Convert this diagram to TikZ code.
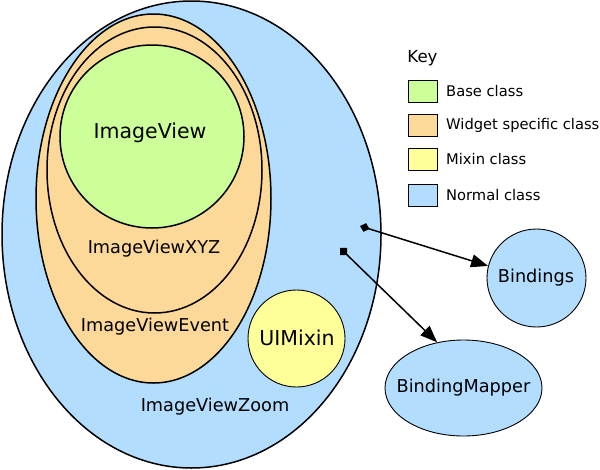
\documentclass[tikz,border=0pt]{standalone}
\usepackage{fontspec}
\setmainfont{DejaVu Sans}
\usetikzlibrary{shapes.geometric,arrows.meta}
\definecolor{basec}{HTML}{CCFF99}
\definecolor{widgetc}{HTML}{FCD899}
\definecolor{mixinc}{HTML}{FFFF99}
\definecolor{normalc}{HTML}{B3DDFF}
\tikzset{
  cls/.style={ellipse, draw=black, inner sep=0pt},
  thick cls/.style={cls, line width=1.5pt},
  thin cls/.style={cls, line width=0.9pt},
  lbl/.style={font=\fontsize{17.7}{20}\selectfont, inner sep=0pt},
  biglbl/.style={font=\fontsize{20.5}{24}\selectfont, inner sep=0pt},
  keylbl/.style={font=\fontsize{14.7}{17}\selectfont, inner sep=0pt, anchor=west},
  swatch/.style={draw=black, line width=1pt, minimum width=29pt, minimum height=22pt, inner sep=0pt},
  link/.style={line width=1.5pt}
}
\begin{document}
\begin{tikzpicture}[x=1pt,y=-1pt]
\useasboundingbox (0,0) rectangle (600,469);
% ImageViewZoom
\node[thick cls, fill=normalc, minimum width=379pt, minimum height=467pt] (zoom) at (191.5,234.5) {};
% ImageViewEvent
\node[thick cls, fill=widgetc, minimum width=235pt, minimum height=369pt] (event) at (153.5,198.5) {};
% ImageViewXYZ
\node[thick cls, fill=widgetc, minimum width=215pt, minimum height=286pt] (xyz) at (154.5,170) {};
% ImageView
\node[thick cls, fill=basec, minimum width=184pt, minimum height=183pt] (iv) at (152,136.5) {};
% UIMixin
\node[thin cls, fill=mixinc, minimum width=97pt, minimum height=97pt] (mixin) at (296.5,338.5) {};
% Bindings
\node[thin cls, fill=normalc, minimum width=99pt, minimum height=98pt] (bind) at (536.5,278) {};
% BindingMapper
\node[thin cls, fill=normalc, minimum width=157pt, minimum height=96pt] (bmap) at (463.5,388) {};

% labels
\node[biglbl] (ivlbl) at (150,133) {ImageView};
\node[lbl] (xyzlbl) at (154,249) {ImageViewXYZ};
\node[lbl] (eventlbl) at (155,327) {ImageViewEvent};
\node[biglbl] (mixinlbl) at (297,338) {UIMixin};
\node[lbl] (zoomlbl) at (215,407) {ImageViewZoom};
\node[lbl] (bindlbl) at (536,278) {Bindings};
\node[lbl] (bmaplbl) at (463.5,388) {BindingMapper};

% connectors
\coordinate (s1) at (360,226);
\coordinate (s2) at (340,248);
\draw[link, {Diamond[length=10pt,width=9pt]}-{Triangle[length=17pt,width=13pt]}] (s1) -- (bind.166);
\draw[link, {Diamond[length=10pt,width=10pt]}-{Triangle[length=17pt,width=13pt]}] (s2) -- (bmap.120);

% key
\node[font=\fontsize{16.6}{19}\selectfont, inner sep=0pt] (key) at (422.5,58) {Key};
\node[swatch, fill=basec] (k1) at (423,91) {};
\node[swatch, fill=widgetc] (k2) at (423,125) {};
\node[swatch, fill=mixinc] (k3) at (423,159) {};
\node[swatch, fill=normalc] (k4) at (423,195) {};
\node[keylbl] (k1l) at (446,91) {Base class};
\node[keylbl] (k2l) at (446,125) {Widget specific class};
\node[keylbl] (k3l) at (446,159) {Mixin class};
\node[keylbl] (k4l) at (446,195) {Normal class};
\end{tikzpicture}
\end{document}
